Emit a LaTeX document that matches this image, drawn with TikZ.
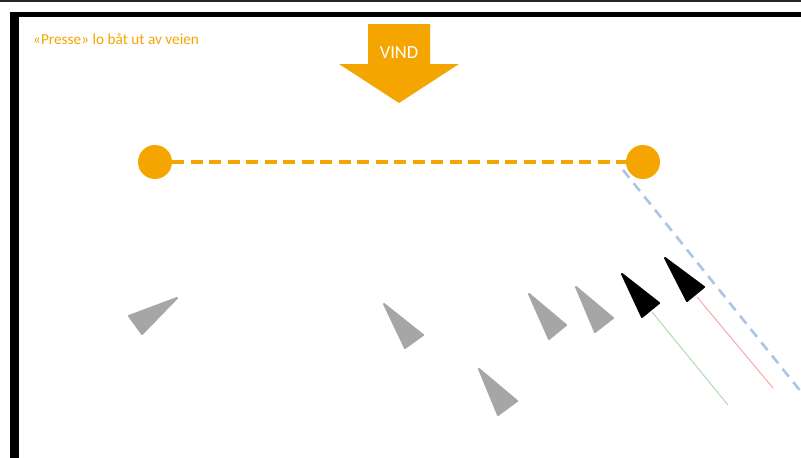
\documentclass[tikz,border=0pt]{standalone}
\usepackage{fontspec}
\setmainfont{Carlito}
\definecolor{accorange}{HTML}{F5A500}
\definecolor{boatgray}{HTML}{A6A6A6}
\definecolor{laneblue}{HTML}{AEC3E8}
\definecolor{wakegreen}{HTML}{A9DAA9}
\definecolor{wakered}{HTML}{F5A3A3}
\begin{document}
\begin{tikzpicture}[x=1pt,y=-1pt,
  grayboat/.style={fill=boatgray,draw=boatgray,line width=2pt,line join=round},
  blackboat/.style={fill=black,draw=black,line width=2pt,line join=round},
  markdot/.style={circle,fill=accorange,minimum size=34pt,inner sep=0pt},
  wake/.style={line width=0.9pt}]
\useasboundingbox (0,0) rectangle (801,458);
\fill[white] (0,0) rectangle (801,458);
% frame
\fill[black!85] (0,0) rectangle (801,1.8);
\fill[black] (10,12) rectangle (801,16.5);
\fill[black] (10,12) rectangle (18.5,458);
% title text
\node[anchor=west,text=accorange,font=\fontsize{15.3}{17}\selectfont,inner sep=0pt] (title) at (33,39) {«Presse» lo båt ut av veien};
% wind arrow
\fill[accorange] (368,24) -- (430,24) -- (430,64) -- (459,64) -- (399,103) -- (339,64) -- (368,64) -- cycle;
\node[text=white,font=\fontsize{18.5}{20}\selectfont,inner sep=0pt] (vind) at (399,53) {VIND};
% marks
\node[markdot] (m1) at (155,162) {};
\node[markdot] (m2) at (643,162) {};
\coordinate (laneend) at (806,398);
\draw[laneblue,line width=2.6pt,dash pattern=on 10pt off 7pt] (623,170) -- (laneend);
\draw[accorange,line width=4.2pt,dash pattern=on 12pt off 6.5pt] (m1) -- (m2);
% gray boats
\draw[grayboat] (177,298) -- (142,334) -- (129,316) -- cycle;
\draw[grayboat] (384,304) -- (423,335) -- (405,348) -- cycle;
\draw[grayboat] (479,369) -- (517,401) -- (498,415) -- cycle;
\draw[grayboat] (529,294) -- (566,325) -- (549,339) -- cycle;
\draw[grayboat] (576,287) -- (613,318) -- (595,332) -- cycle;
% black boats with wakes
\coordinate (s1) at (652,312);
\coordinate (w1) at (728,405);
\coordinate (s2) at (697,297);
\coordinate (w2) at (773,388);
\draw[wakegreen,wake] (s1) -- (w1);
\draw[wakered,wake] (s2) -- (w2);
\draw[blackboat] (622,274) -- (659,303) -- (642,317) -- cycle;
\draw[blackboat] (665,258) -- (704,287) -- (687,301) -- cycle;
\end{tikzpicture}
\end{document}
